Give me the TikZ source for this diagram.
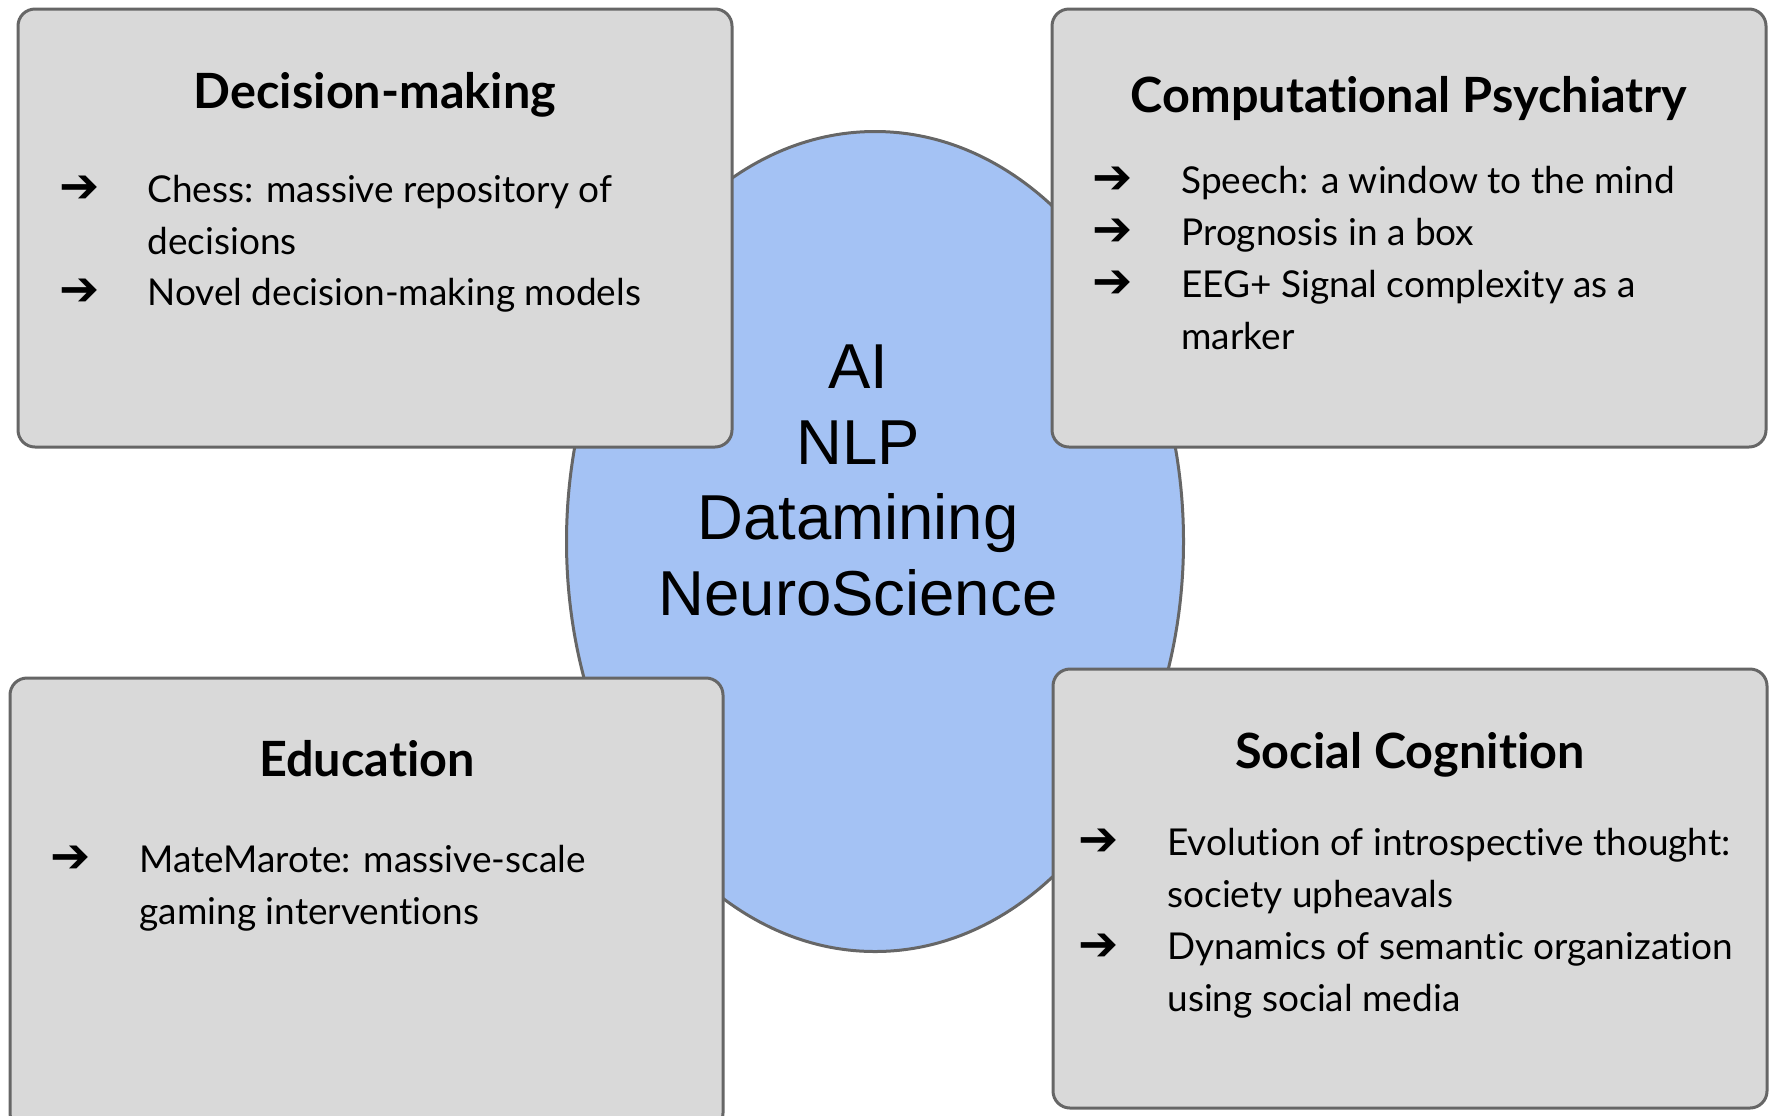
\documentclass[tikz,border=0pt]{standalone}
\usepackage{fontspec}
\setmainfont{Lato}[Ligatures=NoCommon]
\newfontfamily\arrowfont{DejaVu Sans}
\newfontfamily\corefont{Liberation Sans}

\begin{document}
\begin{tikzpicture}[x=0.5pt, y=-0.5pt]
    % Define colors
    \definecolor{boxcolor}{RGB}{217, 217, 217}
    \definecolor{corecolor}{RGB}{164, 194, 244}
    \definecolor{linecolor}{RGB}{102, 102, 102}

    \tikzset{
        areabox/.style={draw=linecolor, fill=boxcolor, line width=1.5pt, rounded corners=8.5pt},
        areatitle/.style={font=\fontsize{24.3}{28}\selectfont\bfseries, anchor=base, inner sep=0pt},
        bullet/.style={font=\arrowfont\bfseries\fontsize{24}{26}\selectfont, anchor=base, inner sep=0pt},
        item/.style={font=\fontsize{18.5}{26}\selectfont, anchor=base west, align=left, inner sep=0pt},
    }

    % Page size, the lower left box runs off the bottom edge
    \useasboundingbox (0, 0) rectangle (1776, 1115);
    \clip (0, 0) rectangle (1776, 1115);

    % Central ellipse behind the four boxes
    \draw[draw=linecolor, fill=corecolor, line width=1.5pt] (875, 541.5) ellipse [x radius=308.5, y radius=410];

    % The four boxes
    \draw[areabox] (18, 9) rectangle (732, 447);
    \draw[areabox] (1052, 9) rectangle (1766, 447);
    \draw[areabox] (10, 678) rectangle (723, 1130);
    \draw[areabox] (1053, 669) rectangle (1767, 1108);

    % Central text (base sits on the last line)
    \node[font=\corefont\fontsize{31.75}{37.75}\selectfont, align=center, anchor=base, inner sep=0pt] (core) at (858, 615)
        {AI\\NLP\\Datamining\\NeuroScience};

    % Decision-making box
    \node[areatitle] (dmtitle) at (375, 108) {Decision-making};
    \node[bullet] (dmarrowA) at (80, 202) {➔};
    \node[item] (dmitemA) at (147, 254) {Chess: massive repository of\\decisions};
    \node[bullet] (dmarrowB) at (80, 305) {➔};
    \node[item] (dmitemB) at (147, 305) {Novel decision-making models};

    % Computational Psychiatry box
    \node[areatitle] (cptitle) at (1409, 112) {Computational Psychiatry};
    \node[bullet] (cparrowA) at (1113, 193) {➔};
    \node[item] (cpitemA) at (1181, 193) {Speech: a window to the mind};
    \node[bullet] (cparrowB) at (1113, 245) {➔};
    \node[item] (cpitemB) at (1181, 245) {Prognosis in a box};
    \node[bullet] (cparrowC) at (1113, 297) {➔};
    \node[item] (cpitemC) at (1181, 349) {EEG+ Signal complexity as a\\marker};

    % Education box
    \node[areatitle] (edtitle) at (367, 776) {Education};
    \node[bullet] (edarrowA) at (71, 872) {➔};
    \node[item] (editemA) at (139, 924) {MateMarote: massive-scale\\gaming interventions};

    % Social Cognition box
    \node[areatitle] (sctitle) at (1410, 768) {Social Cognition};
    \node[bullet] (scarrowA) at (1099, 855) {➔};
    \node[item] (scitemA) at (1167, 907) {Evolution of introspective thought:\\society upheavals};
    \node[bullet] (scarrowB) at (1099, 960) {➔};
    \node[item] (scitemB) at (1167, 1011) {Dynamics of semantic organization\\using social media};

\end{tikzpicture}
\end{document}
